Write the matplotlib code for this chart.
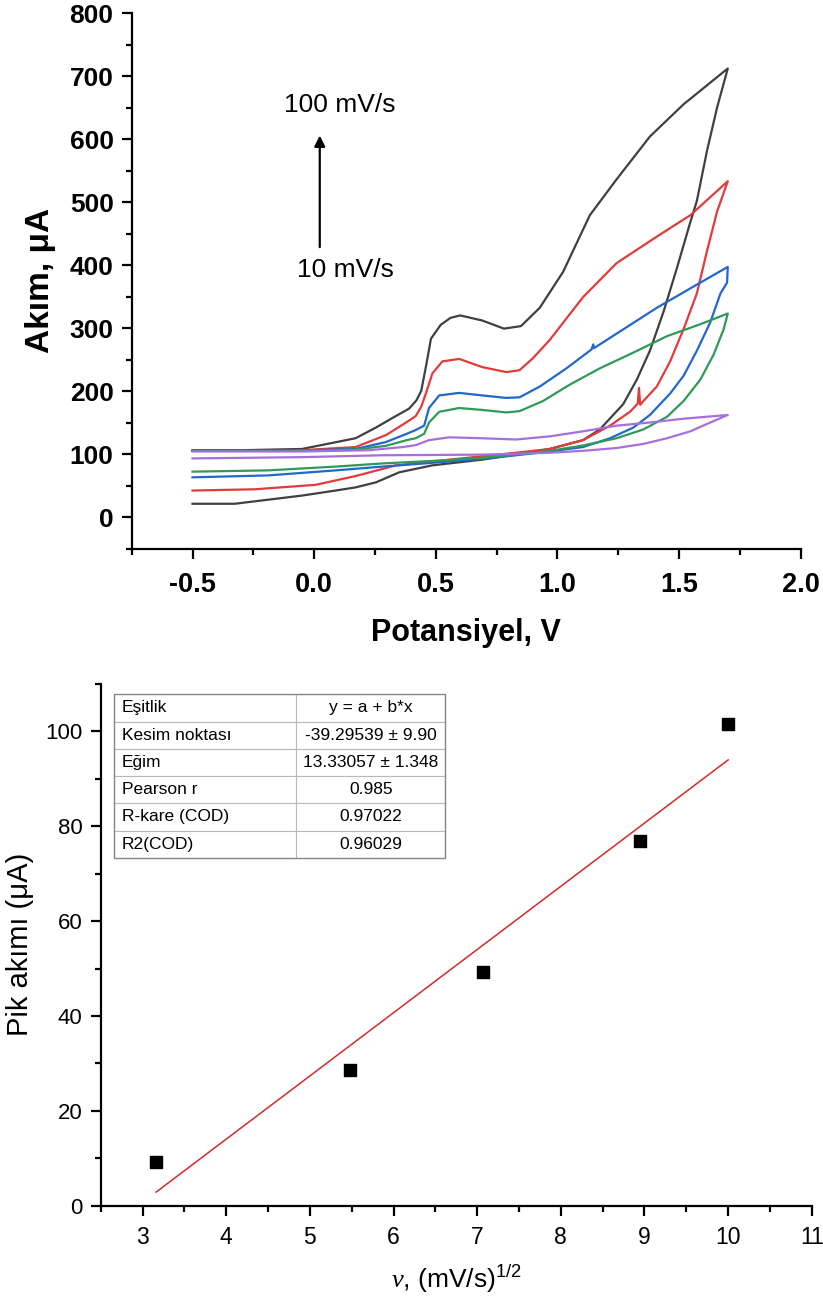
import matplotlib
matplotlib.use("Agg")
import matplotlib.pyplot as plt
from matplotlib.ticker import MultipleLocator, FormatStrFormatter
from matplotlib.patches import Rectangle

plt.rcParams['font.family'] = ['Liberation Sans', 'DejaVu Sans']
plt.rcParams['mathtext.fontset'] = 'custom'
plt.rcParams['mathtext.rm'] = 'Liberation Sans'
plt.rcParams['mathtext.it'] = 'Liberation Serif:italic'
plt.rcParams['mathtext.default'] = 'regular'

# ---------------- Top chart data: cyclic voltammograms ----------------
# 100 mV/s (black)
E_100_fwd = [-0.5, -0.3, -0.05, 0.17, 0.254, 0.33, 0.39, 0.42, 0.44, 0.46, 0.48, 0.52, 0.56, 0.60, 0.69, 0.78, 0.85, 0.927, 1.023, 1.133, 1.243, 1.38, 1.518, 1.70]
I_100_fwd = [106, 106, 108, 125, 142, 159, 172, 185, 200, 240, 283, 305, 316, 320, 312, 299, 303, 332, 389, 479, 536, 604, 655, 712]
E_100_rev = [1.70, 1.656, 1.615, 1.573, 1.546, 1.49, 1.436, 1.38, 1.326, 1.27, 1.174, 1.105, 0.968, 0.83, 0.69, 0.486, 0.35, 0.254, 0.17, 0.088, -0.05, -0.327, -0.5]
I_100_rev = [712, 650, 582, 502, 468, 394, 326, 264, 218, 179, 139, 122, 108, 99, 91, 82, 71, 55, 47, 42, 34, 21, 21]

# 75 mV/s (red)
E_75_fwd = [-0.5, -0.1, 0.17, 0.295, 0.378, 0.417, 0.44, 0.459, 0.486, 0.527, 0.596, 0.69, 0.79, 0.844, 0.899, 0.968, 1.105, 1.243, 1.408, 1.546, 1.70]
I_75_fwd = [105, 105, 111, 130, 150, 160, 175, 196, 228, 247, 251, 238, 230, 233, 252, 281, 349, 403, 445, 479, 533]
E_75_rev = [1.70, 1.656, 1.615, 1.573, 1.518, 1.463, 1.408, 1.353, 1.34, 1.335, 1.33, 1.298, 1.216, 1.105, 0.968, 0.83, 0.69, 0.486, 0.337, 0.17, 0.005, -0.244, -0.5]
I_75_rev = [533, 485, 423, 355, 298, 247, 207, 184, 178, 205, 180, 167, 145, 122, 108, 102, 96.5, 88, 82, 65, 51, 44, 42]

# 50 mV/s (blue)
E_50_fwd = [-0.5, -0.1, 0.17, 0.295, 0.38, 0.417, 0.452, 0.472, 0.514, 0.596, 0.69, 0.79, 0.844, 0.927, 1.037, 1.14, 1.147, 1.15, 1.271, 1.408, 1.56, 1.70]
I_50_fwd = [105, 105, 108, 119, 132, 138, 145, 173, 193, 197, 193, 189, 190, 207, 236, 266, 274, 268, 298, 332, 366, 397]
E_50_rev = [1.70, 1.697, 1.67, 1.628, 1.573, 1.518, 1.463, 1.38, 1.312, 1.216, 1.105, 0.968, 0.83, 0.69, 0.486, 0.28, 0.088, -0.19, -0.5]
I_50_rev = [397, 372, 355, 309, 264, 224, 196, 162, 142, 125, 111, 104, 98, 92.5, 86, 80, 74, 66, 63]

# 30 mV/s (green)
E_30_fwd = [-0.5, -0.1, 0.17, 0.295, 0.38, 0.417, 0.452, 0.472, 0.514, 0.596, 0.69, 0.79, 0.844, 0.94, 1.05, 1.174, 1.312, 1.45, 1.587, 1.70]
I_30_fwd = [105, 105, 107, 113, 122, 125, 132, 150, 167, 173, 170, 166, 168, 184, 210, 236, 261, 287, 306, 323]
E_30_rev = [1.70, 1.683, 1.642, 1.587, 1.518, 1.45, 1.353, 1.243, 1.105, 0.968, 0.83, 0.69, 0.486, 0.28, 0.088, -0.19, -0.5]
I_30_rev = [323, 298, 258, 218, 184, 159, 139, 125, 113.5, 105, 99, 94, 89, 85, 80, 74, 72]

# 10 mV/s (purple)
E_10_fwd = [-0.5, -0.05, 0.226, 0.364, 0.417, 0.472, 0.555, 0.69, 0.83, 0.968, 1.105, 1.243, 1.38, 1.518, 1.70]
I_10_fwd = [104, 104, 106, 111, 114, 122, 126.5, 125, 123, 128, 136, 145, 150, 156, 162]
E_10_rev = [1.70, 1.628, 1.546, 1.45, 1.353, 1.243, 1.105, 0.968, 0.83, 0.69, 0.28, -0.05, -0.5]
I_10_rev = [162, 150, 136, 125, 116, 109.5, 105, 102, 100.4, 99, 98, 95, 93]

cv_colors = ['#404040', '#e23b3b', '#2268cc', '#2f9a58', '#a66fdc']

# ---------------- Bottom chart data ----------------
sqrt_scan_rate = [3.162, 5.477, 7.071, 8.944, 10.0]
peak_current = [9.1, 28.6, 49.2, 77.0, 101.6]
fit_intercept = -39.29539
fit_slope = 13.33057

table_labels = ['Eşitlik', 'Kesim noktası', 'Eğim', 'Pearson r', 'R-kare (COD)', 'R2(COD)']
table_values = ['y = a + b*x', '-39.29539 ± 9.90', '13.33057 ± 1.348', '0.985', '0.97022', '0.96029']

# ---------------- Figure ----------------
fig = plt.figure(figsize=(8.23, 13.01), dpi=100)

ax1 = fig.add_axes([0.160, 0.5784, 0.813, 0.4116])
curves = [(E_100_fwd + E_100_rev, I_100_fwd + I_100_rev),
          (E_75_fwd + E_75_rev, I_75_fwd + I_75_rev),
          (E_50_fwd + E_50_rev, I_50_fwd + I_50_rev),
          (E_30_fwd + E_30_rev, I_30_fwd + I_30_rev),
          (E_10_fwd + E_10_rev, I_10_fwd + I_10_rev)]
for (e, i), c in zip(curves, cv_colors):
    ax1.plot(e, i, color=c, lw=1.6, solid_joinstyle='round')

ax1.set_xlim(-0.75, 2.0)
ax1.set_ylim(-50, 800)
ax1.xaxis.set_major_locator(MultipleLocator(0.5))
ax1.xaxis.set_minor_locator(MultipleLocator(0.25))
ax1.yaxis.set_major_locator(MultipleLocator(100))
ax1.yaxis.set_minor_locator(MultipleLocator(50))
ax1.xaxis.set_major_formatter(FormatStrFormatter('%.1f'))
for s in ['top', 'right']:
    ax1.spines[s].set_visible(False)
for s in ['left', 'bottom']:
    ax1.spines[s].set_linewidth(1.6)
ax1.tick_params(which='major', direction='out', length=7, width=1.6, labelsize=19, pad=6)
ax1.tick_params(axis='x', which='major', labelsize=19.5, pad=10)
ax1.tick_params(which='minor', direction='out', length=4, width=1.6)
for lab in ax1.get_xticklabels() + ax1.get_yticklabels():
    lab.set_fontweight('bold')
ax1.set_xlabel('Potansiyel, V', fontsize=22, fontweight='bold', labelpad=14)
ax1.set_ylabel('Akım, μA', fontsize=24, fontweight='bold', labelpad=10)

ax1.annotate('', xy=(0.023, 610), xytext=(0.023, 424),
             arrowprops=dict(arrowstyle='-|>', color='black', lw=1.6, mutation_scale=16))
ax1.text(0.107, 654, '100 mV/s', fontsize=19, ha='center', va='center')
ax1.text(0.127, 392, '10 mV/s', fontsize=19, ha='center', va='center')

# ---------------- Bottom chart ----------------
ax2 = fig.add_axes([0.1224, 0.0733, 0.8640, 0.4009])
ax2.scatter(sqrt_scan_rate, peak_current, marker='s', s=75, color='black', zorder=3)
x_fit = [sqrt_scan_rate[0], sqrt_scan_rate[-1]]
y_fit = [fit_intercept + fit_slope * x for x in x_fit]
ax2.plot(x_fit, y_fit, color='#d42a2a', lw=1.1)

ax2.set_xlim(2.5, 11)
ax2.set_ylim(0, 110)
ax2.xaxis.set_major_locator(MultipleLocator(1))
ax2.xaxis.set_minor_locator(MultipleLocator(0.5))
ax2.yaxis.set_major_locator(MultipleLocator(20))
ax2.yaxis.set_minor_locator(MultipleLocator(10))
for s in ['top', 'right']:
    ax2.spines[s].set_visible(False)
for s in ['left', 'bottom']:
    ax2.spines[s].set_linewidth(1.6)
ax2.tick_params(which='major', direction='out', length=7, width=1.6, labelsize=16, pad=6)
ax2.tick_params(axis='x', which='major', labelsize=16.5, pad=8)
ax2.tick_params(which='minor', direction='out', length=4, width=1.6)
ax2.set_xlabel('$\\mathit{\\nu}$, (mV/s)$^{1/2}$', fontsize=19, labelpad=10)
ax2.set_ylabel('Pik akımı (μA)', fontsize=21, labelpad=8)

tbl = ax2.table(cellText=[[a, b] for a, b in zip(table_labels, table_values)],
                colWidths=[0.2563, 0.2092], bbox=[0.019, 0.667, 0.4655, 0.3133],
                cellLoc='center')
tbl.auto_set_font_size(False)
for (r, c), cell in tbl.get_celld().items():
    cell.set_edgecolor('#b8b8b8')
    cell.set_linewidth(0.8)
    cell.get_text().set_fontsize(12.5)
    if c == 0:
        cell._loc = 'left'
        cell.get_text().set_ha('left')
        cell.PAD = 0.04
ax2.add_patch(Rectangle((0.019, 0.667), 0.4655, 0.3133, transform=ax2.transAxes,
                        fill=False, edgecolor='#888888', lw=1.0, zorder=5))

fig.savefig('out.png', dpi=100)
